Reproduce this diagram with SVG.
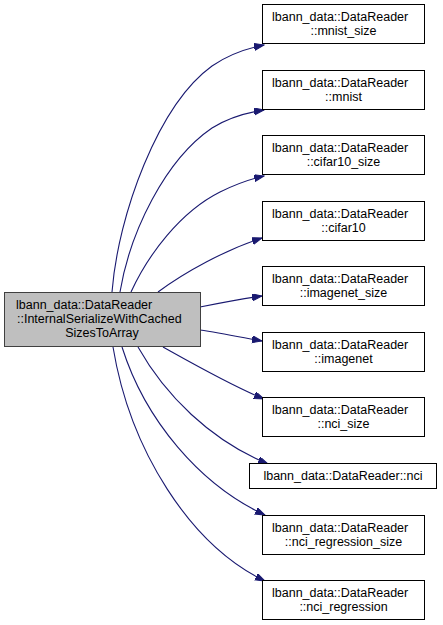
<svg xmlns="http://www.w3.org/2000/svg" width="443" height="625" viewBox="0 0 443 625">
<defs>
<style>
.n rect{fill:#ffffff;stroke:#000000;stroke-width:1}
.m rect{fill:#bfbfbf;stroke:#404040;stroke-width:1}
text{font-family:"Liberation Sans",Arial,Helvetica,sans-serif;font-size:12.5px;fill:#000000}
.c{text-anchor:middle}
.e path{fill:none;stroke:#191970;stroke-width:1.1;marker-end:url(#ah)}
</style>
<marker id="ah" markerUnits="userSpaceOnUse" markerWidth="11" markerHeight="8" refX="10" refY="3.5" orient="auto">
<path d="M0,0 L10,3.5 L0,7 z" fill="#191970" stroke="#191970" stroke-width="1"/>
</marker>
</defs>
<rect width="443" height="625" fill="#ffffff"/>
<g id="connectors" class="e">
<path d="M112,292 C118,215 158,105 212,66 C228,55 244,49 264,45"/>
<path d="M120,292 C130,232 165,160 212,128 C228,118 244,113 264,110"/>
<path d="M131,292 C148,255 180,212 220,192 C234,185 246,180 264,176"/>
<path d="M158,292 C185,272 225,250 262,238"/>
<path d="M200,307 C220,303 240,299 262,296"/>
<path d="M200,330 C220,333 240,337 262,341"/>
<path d="M163,347 C190,362 230,385 264,399"/>
<path d="M138,347 C165,395 210,440 268,464"/>
<path d="M122,347 C145,420 200,485 265,515"/>
<path d="M113,347 C130,450 190,545 265,581"/>
</g>
<g id="node-main" class="m">
<rect x="4.5" y="292.5" width="196" height="54"/>
<text x="16" y="309">lbann_data::DataReader</text>
<text x="17" y="323">::InternalSerializeWithCached</text>
<text x="102" y="337" class="c">SizesToArray</text>
</g>
<g id="node-mnist_size" class="n">
<rect x="262.5" y="4.5" width="162" height="39"/>
<text x="272" y="21">lbann_data::DataReader</text>
<text x="343.5" y="35" class="c">::mnist_size</text>
</g>
<g id="node-mnist" class="n">
<rect x="262.5" y="70.5" width="162" height="39"/>
<text x="272" y="87">lbann_data::DataReader</text>
<text x="343.5" y="101" class="c">::mnist</text>
</g>
<g id="node-cifar10_size" class="n">
<rect x="262.5" y="135.5" width="162" height="39"/>
<text x="272" y="152">lbann_data::DataReader</text>
<text x="343.5" y="166" class="c">::cifar10_size</text>
</g>
<g id="node-cifar10" class="n">
<rect x="262.5" y="201.5" width="162" height="39"/>
<text x="272" y="218">lbann_data::DataReader</text>
<text x="343.5" y="232" class="c">::cifar10</text>
</g>
<g id="node-imagenet_size" class="n">
<rect x="262.5" y="266.5" width="162" height="39"/>
<text x="272" y="283">lbann_data::DataReader</text>
<text x="343.5" y="297" class="c">::imagenet_size</text>
</g>
<g id="node-imagenet" class="n">
<rect x="262.5" y="332.5" width="162" height="39"/>
<text x="272" y="349">lbann_data::DataReader</text>
<text x="343.5" y="363" class="c">::imagenet</text>
</g>
<g id="node-nci_size" class="n">
<rect x="262.5" y="397.5" width="162" height="39"/>
<text x="272" y="414">lbann_data::DataReader</text>
<text x="343.5" y="428" class="c">::nci_size</text>
</g>
<g id="node-nci" class="n">
<rect x="249.5" y="463.5" width="187" height="25"/>
<text x="343" y="480" class="c">lbann_data::DataReader::nci</text>
</g>
<g id="node-nci_regression_size" class="n">
<rect x="262.5" y="515.5" width="162" height="39"/>
<text x="272" y="532">lbann_data::DataReader</text>
<text x="343.5" y="546" class="c">::nci_regression_size</text>
</g>
<g id="node-nci_regression" class="n">
<rect x="262.5" y="580.5" width="162" height="39"/>
<text x="272" y="597">lbann_data::DataReader</text>
<text x="343.5" y="611" class="c">::nci_regression</text>
</g>
</svg>
